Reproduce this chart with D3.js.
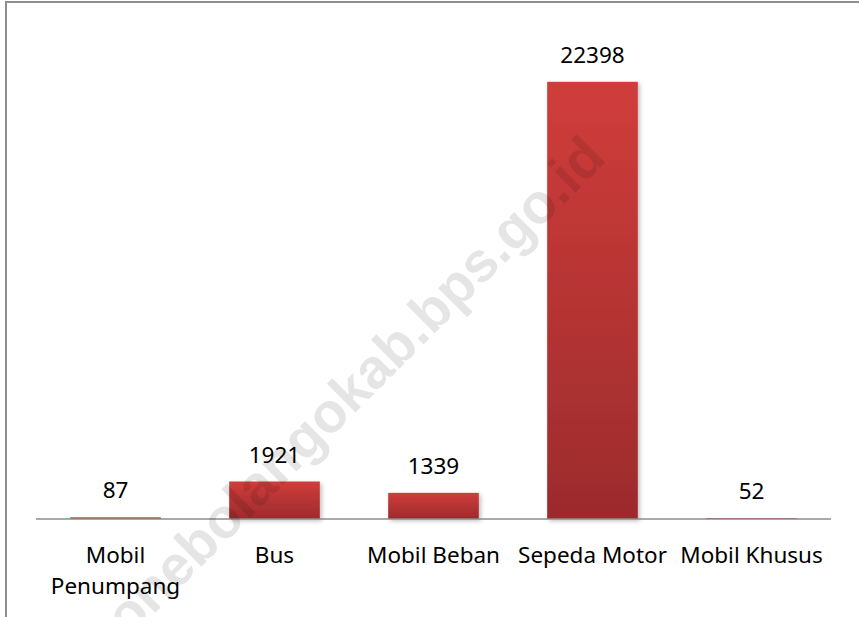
<!DOCTYPE html>
<html lang="id">
<head>
<meta charset="utf-8">
<title>Kendaraan Bermotor</title>
<script src="https://cdn.jsdelivr.net/npm/d3@7/dist/d3.min.js"></script>
<style>
  body { margin: 0; background: #fff; }
  text { font-family: "Noto Sans", "Open Sans", sans-serif; }
</style>
</head>
<body>
<script>
// data
var categories = ["Mobil Penumpang", "Bus", "Mobil Beban", "Sepeda Motor", "Mobil Khusus"];
var values = [87, 1921, 1339, 22398, 52];
var yMax = 25000;
var watermark = "bonebolangokab.bps.go.id";

var W = 859, H = 617;
var plot = {left: 36, right: 831, top: 31, bottom: 519};

var svg = d3.select("body").append("svg")
  .attr("width", W)
  .attr("height", H);

svg.append("rect").attr("width", W).attr("height", H).attr("fill", "#fff");

var defs = svg.append("defs");
var grad = defs.append("linearGradient")
  .attr("id", "barGrad")
  .attr("x1", 0).attr("y1", 0).attr("x2", 0).attr("y2", 1);
grad.append("stop").attr("offset", "0%").attr("stop-color", "#d03d3b");
grad.append("stop").attr("offset", "100%").attr("stop-color", "#9c2b2c");

var shadow = defs.append("filter").attr("id", "shadow")
  .attr("x", "-20%").attr("y", "-20%").attr("width", "140%").attr("height", "140%");
shadow.append("feDropShadow")
  .attr("dx", 2).attr("dy", 2).attr("stdDeviation", 2)
  .attr("flood-color", "#000").attr("flood-opacity", 0.25);

// outer frame (only left and top visible)
svg.append("line").attr("x1", 6).attr("x2", 6).attr("y1", 1).attr("y2", H)
  .attr("stroke", "#8e8e8e").attr("stroke-width", 2);
svg.append("line").attr("x1", 5).attr("x2", W).attr("y1", 2).attr("y2", 2)
  .attr("stroke", "#8e8e8e").attr("stroke-width", 2);

var x = d3.scaleBand()
  .domain(categories)
  .range([plot.left, plot.right])
  .paddingInner(0.43)
  .paddingOuter(0.215);

var y = d3.scaleLinear()
  .domain([0, yMax])
  .range([plot.bottom, plot.top]);

var data = categories.map(function(c, i) { return {cat: c, val: values[i]}; });

svg.append("g").selectAll("rect")
  .data(data)
  .enter()
  .append("rect")
  .attr("x", d => x(d.cat))
  .attr("width", x.bandwidth())
  .attr("y", d => y(d.val))
  .attr("height", d => y(0) - y(d.val))
  .attr("fill", d => (y(0) - y(d.val)) < 4 ? "#d03d3b" : "url(#barGrad)")
  .attr("filter", d => (y(0) - y(d.val)) < 4 ? null : "url(#shadow)");

// baseline
svg.append("line")
  .attr("x1", plot.left).attr("x2", plot.right)
  .attr("y1", y(0)).attr("y2", y(0))
  .attr("stroke", "#8c8c8c").attr("stroke-width", 1.5);

// watermark
svg.append("text")
  .attr("transform", "translate(608,160) rotate(-45)")
  .attr("text-anchor", "end")
  .style("font-family", "'Liberation Sans', Arial, sans-serif")
  .style("font-weight", "bold")
  .style("font-size", "56px")
  .style("fill", "#000")
  .style("fill-opacity", 0.1)
  .text(watermark);

// value labels
svg.append("g").selectAll("text")
  .data(data)
  .enter()
  .append("text")
  .attr("x", d => x(d.cat) + x.bandwidth() / 2)
  .attr("y", d => y(d.val) - 19)
  .attr("text-anchor", "middle")
  .style("font-size", "22.5px")
  .style("fill", "#000")
  .text(d => d.val);

// category labels, wrapped when wider than the band step
var catG = svg.append("g");
categories.forEach(function(c) {
  var t = catG.append("text")
    .attr("x", x(c) + x.bandwidth() / 2)
    .attr("y", 563)
    .attr("text-anchor", "middle")
    .style("font-size", "22.5px")
    .style("fill", "#000")
    .text(c);
  if (t.node().getComputedTextLength() > x.step()) {
    var words = c.split(" ");
    t.text(null);
    words.forEach(function(w, i) {
      t.append("tspan")
        .attr("x", x(c) + x.bandwidth() / 2)
        .attr("dy", i === 0 ? 0 : 31)
        .text(w);
    });
  }
});
</script>
</body>
</html>
